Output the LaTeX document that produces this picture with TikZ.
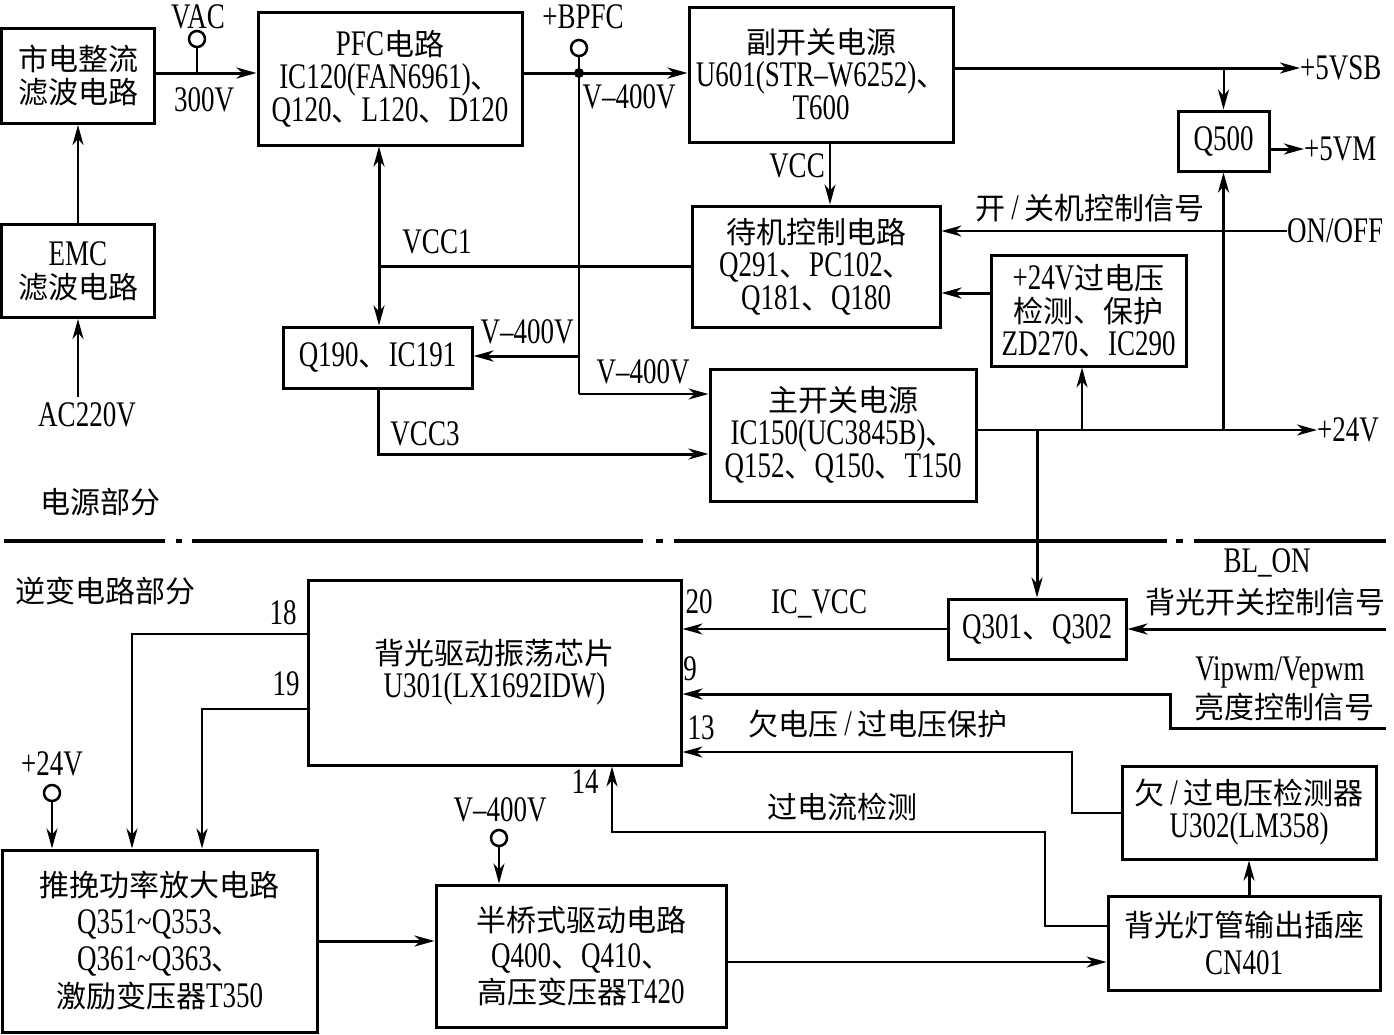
\documentclass[tikz,border=0pt]{standalone}
\usepackage{fontspec}
\setmainfont{Liberation Serif}[Scale=1.2,FakeStretch=0.75]
\newfontfamily\zhfont{Noto Sans CJK SC}
% Chinese characters switch to \zhfont by themselves
\XeTeXinterchartokenstate=1
\newXeTeXintercharclass\zhclass
\count255="3000
\loop\XeTeXcharclass\count255=\zhclass
  \ifnum\count255<"303F \advance\count255 by 1 \repeat
\count255="4E00
\loop\XeTeXcharclass\count255=\zhclass
  \ifnum\count255<"9FFF \advance\count255 by 1 \repeat
\XeTeXinterchartoks 0 \zhclass = {\begingroup\zhfont}
\XeTeXinterchartoks 4095 \zhclass = {\begingroup\zhfont}
\XeTeXinterchartoks \zhclass 0 = {\endgroup}
\XeTeXinterchartoks \zhclass 4095 = {\endgroup}
\usetikzlibrary{arrows.meta,positioning}

\begin{document}
\begin{tikzpicture}[x=1pt,y=-1pt,
  font=\fontsize{30pt}{33pt}\selectfont,
  blk/.style 2 args={draw,line width=3pt,minimum width=#1,minimum height=#2,
                     inner sep=0pt,align=center},
  lbl/.style={inner sep=0pt,align=center},
  term/.style={draw,circle,line width=2.5pt,minimum size=16pt,inner sep=0pt},
  wire/.style={line width=2pt},
  bus/.style={line width=3pt},
  sep/.style={line width=4pt},
  >={Stealth[length=20pt,width=11pt,inset=6pt]}
]
\useasboundingbox (0,0) rectangle (1394,1034);

% ---- power supply part ----
\node[blk={153pt}{95pt}] (rect) at (78,76) {市电整流\\滤波电路};
\node[blk={153pt}{93pt},below=98pt of rect] (emc) {EMC\\滤波电路};
\node[lbl,inner sep=6pt] (ac) at (87,415) {AC220V};
\node[blk={264pt}{133pt}] (pfc) at (390,78.5) {PFC电路\\IC120(FAN6961)、\\Q120、L120、D120};
\node[blk={264pt}{135pt}] (aux) at (821,74.5) {副开关电源\\U601(STR--W6252)、\\T600};
\node[blk={91pt}{60pt}] (q500) at (1223.5,141) {Q500};
\node[blk={248pt}{121pt}] (stby) at (816,266.5) {待机控制电路\\Q291、PC102、\\Q181、Q180};
\node[blk={195pt}{111pt}] (ovp) at (1088.5,310.5) {+24V过电压\\检测、保护\\ZD270、IC290};
\node[blk={189pt}{61pt}] (q190) at (377.5,357.5) {Q190、IC191};
\node[blk={266pt}{132pt}] (main) at (843,435) {主开关电源\\IC150(UC3845B)、\\Q152、Q150、T150};

\node[term] (vacT) at (197,39) {};
\node[lbl] (vacL) at (198,17) {VAC};
\node[lbl] (v300) at (204,100) {300V};
\coordinate (vacJ) at (197,73);
\node[term] (bpfcT) at (579,48) {};
\node[lbl] (bpfcL) at (583,17) {+BPFC};
\coordinate (bj) at (579,73);
\node[lbl] (v400a) at (629,97) {V--400V};

\draw[wire,->] (emc.south |- ac.north) -- (emc.south);
\draw[wire,->] (emc.north) -- (rect.south);
\draw[bus,->] (rect.east |- vacJ) -- (pfc.west |- vacJ);
\draw[wire] (vacT.south) -- (vacJ);
\draw[bus,->] (pfc.east |- bj) -- (aux.west |- bj);
\draw[wire] (bpfcT.south) -- (bj);
\fill (bj) circle (5pt);

% 400V rail down to Q190 and the main supply
\coordinate (vq) at (579,356);
\coordinate (vm) at (579,394);
\draw[wire] (bj) -- (vm);
\draw[bus,->] (vq) -- (q190.east |- vq);
\draw[wire,->] (vm) -- (main.west |- vm);
\node[lbl] (v400b) at (527,332) {V--400V};
\node[lbl] (v400c) at (643,372) {V--400V};

\coordinate (vcc1) at (379,266);
\draw[bus,<->] (pfc.south -| vcc1) -- (q190.north -| vcc1);
\draw[bus] (vcc1) -- (stby.west |- vcc1);
\node[lbl] (vcc1L) at (437,242) {VCC1};
\coordinate (vcc3) at (378,454);
\draw[bus,->] (q190.south -| vcc3) -- (vcc3) -- (main.west |- vcc3);
\node[lbl] (vcc3L) at (425,434) {VCC3};

% standby outputs
\coordinate (j5) at (q500.north |- 0,68);
\node[lbl,anchor=west] (vsbL) at (1300,68) {+5VSB};
\draw[bus,->] (aux.east |- j5) -- (vsbL.west);
\draw[wire,->] (j5) -- (q500.north);
\node[lbl,anchor=west] (vmL) at (1304,149) {+5VM};
\draw[bus,->] (q500.east |- vmL) -- (vmL.west);
\coordinate (jvcc) at (830,0);
\draw[wire,->] (aux.south -| jvcc) -- (stby.north -| jvcc);
\node[lbl] (vccL) at (797,166) {VCC};

\node[lbl,anchor=west] (onoff) at (1287,231) {ON/OFF};
\draw[wire,->] (onoff.west) -- (stby.east |- onoff.west);
\node[lbl] (onoffL) at (1090,208) {开\,/\,关机控制信号};
\coordinate (jovp) at (0,293);
\draw[bus,->] (ovp.west |- jovp) -- (stby.east |- jovp);

% +24V rail
\node[lbl,anchor=west] (p24L) at (1317,430) {+24V};
\draw[wire,->] (main.east |- p24L) -- (p24L.west);
\coordinate (j24a) at (1037,430);
\coordinate (j24b) at (1082,430);
\coordinate (j24c) at (q500.south |- p24L);
\draw[wire,->] (j24b) -- (ovp.south -| j24b);
\draw[bus,->] (j24c) -- (q500.south);

\node[lbl] (psL) at (100,502) {电源部分};
\foreach \a/\b in {4/165,176/182,192/643,656/663,674/1167,1176/1183,1194/1386}
  \draw[sep] (\a,541) -- (\b,541);
\node[lbl] (invL) at (106,591) {逆变电路部分};

% ---- inverter part ----
\node[blk={373pt}{185pt}] (osc) at (494.5,672.5) {背光驱动振荡芯片\\U301(LX1692IDW)};
\node[blk={178pt}{60pt}] (q301) at (1037,629) {Q301、Q302};
\node[blk={254pt}{93pt}] (uvp) at (1249,812.5) {欠\,/\,过电压检测器\\U302(LM358)};
\node[blk={272pt}{94pt},font=\fontsize{30pt}{38pt}\selectfont] (cn401) at (1244,943)
  {背光灯管输出插座\\CN401};
\node[blk={315pt}{182pt},font=\fontsize{30pt}{37pt}\selectfont] (push) at (159.5,941)
  {推挽功率放大电路\\Q351\textasciitilde Q353、\\Q361\textasciitilde Q363、\\激励变压器T350};
\node[blk={290pt}{142pt},font=\fontsize{30pt}{36pt}\selectfont] (half) at (581,956)
  {半桥式驱动电路\\Q400、Q410、\\高压变压器T420};

\node[lbl] (p20) at (699,602) {20};
\node[lbl] (p9) at (690,669) {9};
\node[lbl] (p13) at (701,728) {13};
\node[lbl] (p14) at (585,782) {14};
\node[lbl] (p18) at (283,613) {18};
\node[lbl] (p19) at (286,684) {19};

\draw[bus,->] (j24a) -- (q301.north);
\draw[wire,->] (q301.west) -- (osc.east |- q301.west);
\node[lbl] (icvcc) at (819,604) {IC\_VCC};
\coordinate (blon) at (1386,629);
\draw[bus,->] (blon) -- (q301.east);
\node[lbl] (blonL) at (1267,563) {BL\_ON};
\node[lbl] (blonT) at (1265,602) {背光开关控制信号};

\coordinate (pwm) at (1386,728);
\coordinate (pwmK) at (1170,694);
\draw[bus,->] (pwm) -| (pwmK) -- (osc.east |- pwmK);
\node[lbl] (pwmL) at (1280,672) {Vipwm/Vepwm};
\node[lbl] (pwmT) at (1284,707) {亮度控制信号};

\coordinate (uvK) at (1072,752);
\draw[wire,->] (uvp.west) -| (uvK) -- (osc.east |- uvK);
\node[lbl] (uvL) at (878,724) {欠电压\,/\,过电压保护};

\coordinate (ocS) at (cn401.west |- 0,926);
\coordinate (ocK) at (1045,832);
\coordinate (ocC) at (612,832);
\draw[wire,->] (ocS) -| (ocK) -- (ocC) -- (osc.south -| ocC);
\node[lbl] (ocL) at (842,807) {过电流检测};
\draw[bus,->] (cn401.north -| uvp.south) -- (uvp.south);

\coordinate (k18) at (132,634);
\coordinate (k19) at (202,709);
\draw[wire,->] (osc.west |- k18) -- (k18) -- (push.north -| k18);
\draw[wire,->] (osc.west |- k19) -- (k19) -- (push.north -| k19);
\node[term] (p24T) at (52,793) {};
\node[lbl] (p24B) at (52,764) {+24V};
\draw[wire,->] (p24T.south) -- (push.north -| p24T);

\node[term] (v400T) at (499,838) {};
\node[lbl] (v400d) at (500,810) {V--400V};
\draw[wire,->] (v400T.south) -- (half.north -| v400T);
\draw[bus,->] (push.east) -- (half.west |- push.east);
\coordinate (hc) at (half.east |- 0,962);
\draw[wire,->] (hc) -- (cn401.west |- hc);
\end{tikzpicture}
\end{document}
